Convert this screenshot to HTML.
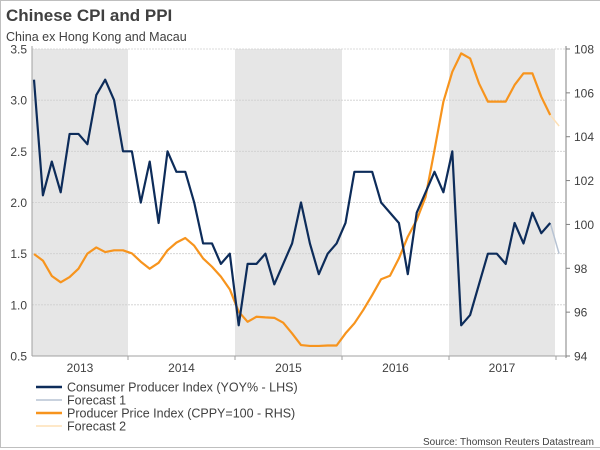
<!DOCTYPE html>
<html><head><meta charset="utf-8"><style>
body{margin:0;background:#fff;}
svg{display:block;font-family:"Liberation Sans",Arial,sans-serif;}
</style></head><body>
<svg id="chart" width="600" height="450">
<rect x="0.5" y="0.5" width="620" height="447" fill="none" stroke="#bfbfbf"/>
<text x="6" y="21" font-size="17" font-weight="bold" fill="#404040">Chinese CPI and PPI</text>
<text x="6" y="41" font-size="12.5" fill="#404040">China ex Hong Kong and Macau</text>
<g id="bands"></g><g id="grid"></g><g id="axes"></g><g id="series"></g>
<g font-size="12.5" fill="#404040">
<line x1="36" y1="387" x2="62" y2="387" stroke="#0d2c5a" stroke-width="2.5"/>
<text x="67" y="391.5">Consumer Producer Index (YOY% - LHS)</text>
<line x1="36" y1="400" x2="62" y2="400" stroke="#b7c3d3" stroke-width="1.5"/>
<text x="67" y="404.5">Forecast 1</text>
<line x1="36" y1="413" x2="62" y2="413" stroke="#f7941d" stroke-width="2.5"/>
<text x="67" y="417.5">Producer Price Index (CPPY=100 - RHS)</text>
<line x1="36" y1="426" x2="62" y2="426" stroke="#fde0b6" stroke-width="1.5"/>
<text x="67" y="430.5">Forecast 2</text>
</g>
<text x="594" y="445" font-size="10" fill="#404040" text-anchor="end">Source: Thomson Reuters Datastream</text>
</svg>
<script>
const cpi=[3.2,2.07,2.4,2.1,2.67,2.67,2.57,3.05,3.2,3.0,2.5,2.5,2.0,2.4,1.8,2.5,2.3,2.3,2.0,1.6,1.6,1.4,1.5,0.8,1.4,1.4,1.5,1.2,1.4,1.6,2.0,1.6,1.3,1.5,1.6,1.8,2.3,2.3,2.3,2.0,1.9,1.8,1.3,1.9,2.1,2.3,2.1,2.5,0.8,0.9,1.2,1.5,1.5,1.4,1.8,1.6,1.9,1.7,1.8];
const cpiForecast=[1.5];
const ppi=[98.65,98.35,97.65,97.36,97.6,97.98,98.67,98.95,98.74,98.82,98.82,98.68,98.3,97.98,98.25,98.82,99.17,99.38,99.03,98.45,98.07,97.62,97.04,96.02,95.56,95.79,95.76,95.74,95.52,95.03,94.5,94.46,94.46,94.48,94.48,95.03,95.49,96.1,96.78,97.5,97.66,98.45,99.44,100.2,101.26,103.39,105.6,106.96,107.8,107.57,106.43,105.6,105.6,105.6,106.36,106.89,106.89,105.82,104.99];
const ppiForecast=[104.49];
const years=["2013","2014","2015","2016","2017"];
const leftTicks=[0.5,1.0,1.5,2.0,2.5,3.0,3.5];
const rightTicks=[94,96,98,100,102,104,106,108];
const NS="http://www.w3.org/2000/svg";
const X0=32,X1=566,Y0=356,Y1=49;
const x=i=>34+i*8.9;
const yL=v=>Y0-(v-0.5)/3*(Y0-Y1);
const yR=v=>Y0-(v-94)/14*(Y0-Y1);
const yearX=k=>128+(k-1)*107; // boundary start of year index k
function mk(tag,attrs,parent){const e=document.createElementNS(NS,tag);for(const k in attrs)e.setAttribute(k,attrs[k]);document.getElementById(parent).appendChild(e);return e;}
// bands
years.forEach((y,k)=>{
 if(k%2===0){const a=Math.max(X0,yearX(k)),b=Math.min(555,yearX(k+1));
 const r=mk('rect',{x:a,y:Y1,width:b-a,height:Y0-Y1,fill:'#e6e6e6'},'bands');
 
 }
 const t=mk('text',{x:(Math.max(X0,yearX(k))+Math.min(555,yearX(k+1)))/2,y:372,'font-size':12,fill:'#404040','text-anchor':'middle'},'axes');
 t.textContent=y;
 
 
});
leftTicks.forEach(v=>{
 const g=mk('line',{x1:X0,x2:X1,y1:yL(v),y2:yL(v),stroke:'#cfcfcf','stroke-dasharray':'2,1','stroke-width':0.8},'grid');
 
 
 const t=mk('text',{x:27,y:yL(v)+4.5,'font-size':12,fill:'#404040','text-anchor':'end'},'axes');
 t.textContent=v.toFixed(1);
 
 
});
rightTicks.forEach(v=>{
 mk('line',{x1:X1,x2:X1+4,y1:yR(v),y2:yR(v),stroke:'#808080'},'axes');
 const t=mk('text',{x:574,y:yR(v)+4.5,'font-size':12,fill:'#404040'},'axes');
 t.textContent=v;
 
 
});
mk('line',{x1:X0,x2:X0,y1:Y1-3,y2:Y0,stroke:'#a0a0a0'},'axes');
mk('line',{x1:X1,x2:X1,y1:Y1-3,y2:Y0+2,stroke:'#808080'},'axes');
mk('line',{x1:X0,x2:X1,y1:Y0,y2:Y0,stroke:'#a0a0a0'},'axes');
for(let k=1;k<=5;k++)mk('line',{x1:yearX(k),x2:yearX(k),y1:Y0,y2:Y0+4,stroke:'#a0a0a0'},'axes');
function line(vals,start,fy,color,w,name){
 const pts=vals.map((v,i)=>x(start+i)+','+fy(v)).join(' ');
 const p=mk('polyline',{points:pts,fill:'none',stroke:color,'stroke-width':w,'stroke-linejoin':'round'},'series');
 
 
}
const n=cpi.length;
line([ppi[ppi.length-1]].concat(ppiForecast),ppi.length-1,yR,'#fde0b6',1.5,'ppi-forecast-line');
line([cpi[n-1]].concat(cpiForecast),n-1,yL,'#b7c3d3',1.5,'cpi-forecast-line');
line(ppi,0,yR,'#f7941d',2.2,'ppi-line');
line(cpi,0,yL,'#0d2c5a',2.2,'cpi-line');
</script>
</body></html>
